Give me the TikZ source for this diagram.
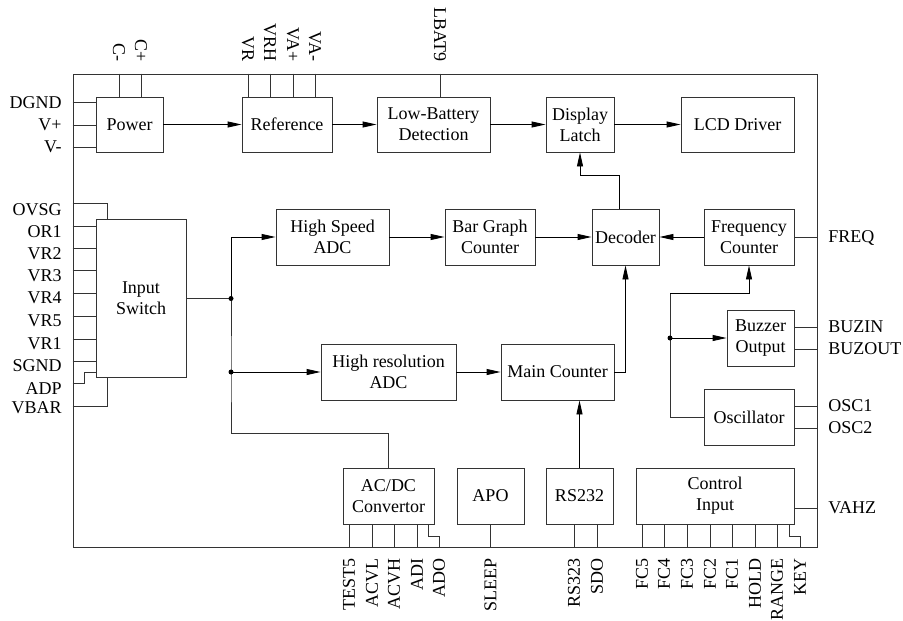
\documentclass[tikz,border=0pt]{standalone}
\usepackage{fontspec}
\setmainfont{Liberation Serif}
\usetikzlibrary{arrows.meta}
\begin{document}
\begin{tikzpicture}[x=1pt,y=-1pt,
  line width=0.9pt, draw=black!80,
  every node/.style={font=\fontsize{18}{21}\selectfont},
  blk/.style={draw=black!80, inner sep=0pt, align=center, minimum height=56pt},
  arr/.style={draw=black, -{Triangle[length=14pt,width=6pt]}},
  lab/.style={inner sep=0pt},
  toplab/.style={inner sep=0pt, rotate=-90, anchor=east},
  botlab/.style={inner sep=0pt, rotate=90, anchor=east},
  jdot/.style={circle, fill=black, inner sep=0pt, minimum size=5pt}]
\useasboundingbox (0,0) rectangle (903,621);
% frame
\node[draw=black!80, inner sep=0pt, minimum width=744pt, minimum height=473pt] (frame) at (445,310.5) {};
% blocks
\node[blk, minimum width=67pt, minimum height=55pt] (power) at (129.5,124.5) {Power};
\node[blk, minimum width=90pt, minimum height=55pt] (ref) at (287,124.5) {Reference};
\node[blk, minimum width=113pt, minimum height=55pt] (lowbat) at (433.5,124.5) {Low-Battery\\Detection};
\node[blk, minimum width=68pt, minimum height=55pt] (latch) at (580,124.5) {Display\\Latch};
\node[blk, minimum width=113pt, minimum height=55pt] (lcd) at (737.5,124.5) {LCD Driver};
\node[blk, minimum width=90pt, minimum height=158pt] (inswitch) at (141,298.5) {Input\\Switch};
\node[blk, minimum width=113pt] (hsadc) at (332.5,237) {High Speed\\ADC};
\node[blk, minimum width=90pt] (bar) at (490,237) {Bar Graph\\Counter};
\node[blk, minimum width=67pt] (dec) at (625.5,237) {Decoder};
\node[blk, minimum width=90pt] (freq) at (749,237) {Frequency\\Counter};
\node[blk, minimum width=135pt] (hradc) at (388.5,372) {High resolution\\ADC};
\node[blk, minimum width=113pt] (main) at (557.5,372) {Main Counter};
\node[blk, minimum width=67pt] (buz) at (760.5,338) {Buzzer\\Output};
\node[blk, minimum width=90pt] (osc) at (749,417) {Oscillator};
\node[blk, minimum width=91pt] (acdc) at (388.5,496) {AC/DC\\Convertor};
\node[blk, minimum width=67pt] (apo) at (490.5,496) {APO};
\node[blk, minimum width=67pt] (rs) at (579.5,496) {RS232};
\node[blk, minimum width=158pt] (ctrl) at (715,496) {Control\\Input};
% arrows
\draw[arr] (power) -- (ref);
\draw[arr] (ref) -- (lowbat);
\draw[arr] (lowbat) -- (latch);
\draw[arr] (latch) -- (lcd);
\draw[arr] (hsadc) -- (bar);
\draw[arr] (bar) -- (dec);
\draw[arr] (freq) -- (dec);
\draw[arr] (hradc) -- (main);
\draw[arr] (main.east) -| (dec.south);
\draw[arr] (dec.north -| 619,0) -- (619,175) -| (latch.south);
\draw[arr] (rs.north) -- (rs.north |- main.south);
% input switch distribution
\coordinate (j1) at (231,298.5);
\coordinate (j2) at (231,372);
\draw (inswitch.east |- j1) -- (j1);
\draw[arr] (j1) |- (hsadc.west);
\draw[arr] (j2) -- (hradc.west);
\draw (j1) -- (j2) -- (j2 |- 0,433) -| (acdc.north);
\node[jdot] at (j1) {};
\node[jdot] at (j2) {};
% oscillator distribution
\coordinate (j3) at (670,338);
\draw (osc.west) -- (osc.west -| j3) -- (670,293);
\draw[arr] (670,293) -| (freq.south);
\draw[arr] (j3) -- (buz.west);
\node[jdot] at (j3) {};
% power pins
\foreach \yy in {102,125,147} \draw (frame.west |- 0,\yy) -- (power.west |- 0,\yy);
\node[lab, anchor=east] at (62,103) {DGND};
\node[lab, anchor=east] at (62,125) {V+};
\node[lab, anchor=east] at (62,147) {V-};
% top pins
\foreach \xx in {119,141} \draw (frame.north -| \xx,0) -- (power.north -| \xx,0);
\foreach \xx in {248,270,293,315} \draw (frame.north -| \xx,0) -- (ref.north -| \xx,0);
\draw (frame.north -| 440,0) -- (lowbat.north -| 440,0);
\node[toplab] at (119,62) {C-};
\node[toplab] at (141,62) {C+};
\node[toplab] at (248,62) {VR};
\node[toplab] at (270,62) {VRH};
\node[toplab] at (293,62) {VA+};
\node[toplab] at (315,62) {VA-};
\node[toplab] at (440,62) {LBAT9};
% input switch pins
\draw (frame.west |- 0,203) -- (107,203) -- (inswitch.north -| 107,0);
\foreach \yy in {226,248,270,293,316,339,361} \draw (frame.west |- 0,\yy) -- (inswitch.west |- 0,\yy);
\draw (frame.west |- 0,383) -- (84,383) -- (84,372) -- (inswitch.west |- 0,372);
\draw (frame.west |- 0,406) -- (107,406) -- (inswitch.south -| 107,0);
\node[lab, anchor=east] at (62,210) {OVSG};
\node[lab, anchor=east] at (62,232) {OR1};
\node[lab, anchor=east] at (62,254) {VR2};
\node[lab, anchor=east] at (62,276) {VR3};
\node[lab, anchor=east] at (62,298) {VR4};
\node[lab, anchor=east] at (62,321) {VR5};
\node[lab, anchor=east] at (62,344) {VR1};
\node[lab, anchor=east] at (62,366) {SGND};
\node[lab, anchor=east] at (62,389) {ADP};
\node[lab, anchor=east] at (62,408) {VBAR};
% right pins
\draw (freq.east) -- (frame.east |- freq.east);
\foreach \yy in {327,349} \draw (buz.east |- 0,\yy) -- (frame.east |- 0,\yy);
\foreach \yy in {406,428} \draw (osc.east |- 0,\yy) -- (frame.east |- 0,\yy);
\draw (ctrl.east |- 0,508) -- (frame.east |- 0,508);
\node[lab, anchor=west] at (828,238) {FREQ};
\node[lab, anchor=west] at (828,327) {BUZIN};
\node[lab, anchor=west] at (828,349) {BUZOUT};
\node[lab, anchor=west] at (828,406) {OSC1};
\node[lab, anchor=west] at (828,428) {OSC2};
\node[lab, anchor=west] at (828,508) {VAHZ};
% bottom pins
\foreach \xx in {349,372,394,417} \draw (acdc.south -| \xx,0) -- (frame.south -| \xx,0);
\draw (acdc.south -| 428,0) -- (428,536) -- (439,536) -- (frame.south -| 439,0);
\draw (apo.south) -- (frame.south -| apo.south);
\foreach \xx in {574,597} \draw (rs.south -| \xx,0) -- (frame.south -| \xx,0);
\foreach \xx in {642,664,687,710,732,755,777} \draw (ctrl.south -| \xx,0) -- (frame.south -| \xx,0);
\draw (ctrl.south -| 789,0) -- (789,536) -- (800,536) -- (frame.south -| 800,0);
\node[botlab] at (349,558) {TEST5};
\node[botlab] at (372,558) {ACVL};
\node[botlab] at (394,558) {ACVH};
\node[botlab] at (417,558) {ADI};
\node[botlab] at (439,558) {ADO};
\node[botlab] at (490.5,558) {SLEEP};
\node[botlab] at (574,558) {RS323};
\node[botlab] at (597,558) {SDO};
\node[botlab] at (642,558) {FC5};
\node[botlab] at (664,558) {FC4};
\node[botlab] at (687,558) {FC3};
\node[botlab] at (710,558) {FC2};
\node[botlab] at (732,558) {FC1};
\node[botlab] at (755,558) {HOLD};
\node[botlab] at (777,558) {RANGE};
\node[botlab] at (800,558) {KEY};
\end{tikzpicture}
\end{document}
